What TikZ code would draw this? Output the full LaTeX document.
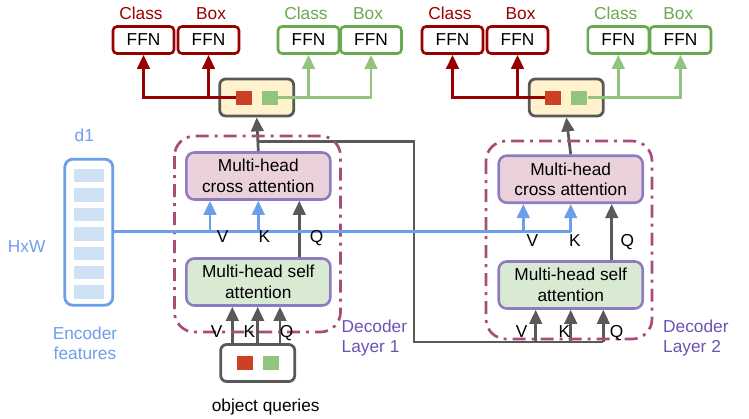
\documentclass[tikz,border=0pt]{standalone}
\usepackage{fontspec}
\setmainfont{Liberation Sans}
\usetikzlibrary{arrows.meta,calc}
\definecolor{dred}{HTML}{990000}
\definecolor{dgreen}{HTML}{6AA84F}
\definecolor{lgreen}{HTML}{93C47D}
\definecolor{sqred}{HTML}{CC4125}
\definecolor{ggray}{HTML}{595959}
\definecolor{hubfill}{HTML}{FFF2CC}
\definecolor{bblue}{HTML}{6D9EEB}
\definecolor{lblue}{HTML}{CFE2F3}
\definecolor{pborder}{HTML}{8E7CC3}
\definecolor{pfill}{HTML}{EAD1DC}
\definecolor{gfill}{HTML}{D9EAD3}
\definecolor{layerc}{HTML}{A64D79}
\definecolor{dpurple}{HTML}{6B52B3}
\begin{document}
\begin{tikzpicture}[x=1pt,y=-1pt,
  txt/.style={font=\fontsize{17.3}{20.6}\selectfont, inner sep=0pt},
  ffnr/.style={draw=dred, line width=2.6pt, rounded corners=4pt, minimum width=61pt, minimum height=27pt, txt},
  ffng/.style={draw=dgreen, line width=2.6pt, rounded corners=4pt, minimum width=61pt, minimum height=27pt, txt},
  hub/.style={draw=ggray, fill=hubfill, line width=2.8pt, rounded corners=6pt, minimum width=74pt, minimum height=37pt},
  qbox/.style={draw=ggray, fill=white, line width=2.8pt, rounded corners=6pt, minimum width=74pt, minimum height=37pt},
  sq/.style={minimum width=16pt, minimum height=14pt, inner sep=0pt},
  cross/.style={draw=pborder, fill=pfill, line width=2.6pt, rounded corners=8pt, minimum width=144pt, minimum height=47pt, align=center, txt},
  self/.style={draw=pborder, fill=gfill, line width=2.6pt, rounded corners=8pt, minimum width=144pt, minimum height=47pt, align=center, txt},
  tip/.style={-{Triangle[width=12.5pt,length=14pt]}},
  rarr/.style={draw=dred, line width=2.7pt, tip},
  garr/.style={draw=lgreen, line width=2.7pt, tip},
  karr/.style={draw=ggray, line width=2.7pt, tip},
  kline/.style={draw=ggray, line width=2.7pt},
  barr/.style={draw=bblue, line width=2.7pt, tip},
  bline/.style={draw=bblue, line width=2.7pt},
  layerbox/.style={draw=layerc, line width=2.7pt, rounded corners=20pt, dash pattern=on 13pt off 6pt on 3pt off 6pt},
  lab/.style={txt, anchor=base},
]
\useasboundingbox (0,0) rectangle (749,418);

% ---------- FFN heads ----------
\node[ffnr] (rc1) at (143.5,40) {FFN};
\node[ffnr] (rb1) at (208.5,40) {FFN};
\node[ffng] (gc1) at (308.5,40) {FFN};
\node[ffng] (gb1) at (371,40) {FFN};
\node[ffnr] (rc2) at (452.5,40) {FFN};
\node[ffnr] (rb2) at (517.5,40) {FFN};
\node[ffng] (gc2) at (618.3,40) {FFN};
\node[ffng] (gb2) at (680.5,40) {FFN};

\node[lab, text=dred] (lrc1) at (141,19.2) {Class};
\node[lab, text=dred] (lrb1) at (211,19.2) {Box};
\node[lab, text=dgreen] (lgc1) at (306,19.2) {Class};
\node[lab, text=dgreen] (lgb1) at (368,19.2) {Box};
\node[lab, text=dred] (lrc2) at (450,19.2) {Class};
\node[lab, text=dred] (lrb2) at (520.5,19.2) {Box};
\node[lab, text=dgreen] (lgc2) at (615.7,19.2) {Class};
\node[lab, text=dgreen] (lgb2) at (678.3,19.2) {Box};

% ---------- hubs ----------
\node[hub] (hub1) at (256.7,97.5) {};
\node[sq, fill=sqred] (rq1) at (243.7,97.5) {};
\node[sq, fill=lgreen] (gq1) at (269.7,97.5) {};
\node[hub] (hub2) at (566.3,97.5) {};
\node[sq, fill=sqred] (rq2) at (553,97.5) {};
\node[sq, fill=lgreen] (gq2) at (579.3,97.5) {};

% ---------- attention blocks ----------
\node[cross] (ca1) at (258.3,176) {Multi-head\\cross attention};
\node[self] (sa1) at (258.3,282) {Multi-head self\\attention};
\node[cross] (ca2) at (570.7,179.2) {Multi-head\\cross attention};
\node[self] (sa2) at (570.7,285) {Multi-head self\\attention};

% ---------- object queries ----------
\node[qbox] (oq) at (257.7,363) {};
\node[sq, fill=sqred] (oqr) at (244.7,363.3) {};
\node[sq, fill=lgreen] (oqg) at (271.3,363.3) {};
\node[lab] (oqlab) at (265.7,411) {object queries};

% ---------- encoder features ----------
\node[draw=bblue, fill=white, line width=2.8pt, rounded corners=8pt, minimum width=48pt, minimum height=146pt] (enc) at (88.8,232.2) {};
\foreach \i in {0,...,6}{
  \node[fill=lblue, minimum width=30pt, minimum height=13.4pt, inner sep=0pt] (e\i) at (89,175.7+19.4*\i) {};
}
\node[lab, text=bblue] (d1) at (84.3,141.2) {d1};
\node[lab, text=bblue] (hxw) at (26.7,252.9) {HxW};
\node[txt, text=bblue, align=center] (encl) at (85,343.3) {Encoder\\features};

% ---------- FFN connectors ----------
\coordinate (rj1) at (rb1.south |- rq1.west);
\coordinate (gj1) at (gc1.south |- gq1.east);
\coordinate (rj2) at (rb2.south |- rq2.west);
\coordinate (gj2) at (gc2.south |- gq2.east);
\draw[rarr] (rq1.west) -| (rc1.south);
\draw[rarr] (rj1) -- (rb1.south);
\draw[garr] (gq1.east) -| (gb1.south);
\draw[garr] (gj1) -- (gc1.south);
\draw[rarr] (rq2.west) -| (rc2.south);
\draw[rarr] (rj2) -- (rb2.south);
\draw[garr] (gq2.east) -| (gb2.south);
\draw[garr] (gj2) -- (gc2.south);

% ---------- gray connectors ----------
\coordinate (s1) at (ca1.north |- 0,141.7);
\coordinate (c1r) at (414,141.7);
\coordinate (c1d) at (414,342);
\coordinate (bv2) at (535.7,342);
\coordinate (bk2) at (570.7,342);
\coordinate (bq2) at (603.3,342);
\draw[karr] (ca1.north) -- (hub1.south);
\draw[karr] (ca2.north) -- (hub2.south);
\draw[kline] (s1) -- (c1r) -- (c1d) -- (bq2);
\draw[karr] (bv2) -- (bv2 |- sa2.south);
\draw[karr] (bk2) -- (bk2 |- sa2.south);
\draw[karr] (bq2) -- (bq2 |- sa2.south);
\coordinate (ov) at (232.3,0);
\coordinate (ok) at (257.7,0);
\coordinate (oqq) at (280,0);
\draw[karr] (oq.north -| ov) -- (sa1.south -| ov);
\draw[karr] (oq.north -| ok) -- (sa1.south -| ok);
\draw[karr] (oq.north -| oqq) -- (sa1.south -| oqq);
\coordinate (q1) at (299.3,0);
\coordinate (q2) at (611.7,0);
\draw[karr] (sa1.north -| q1) -- (ca1.south -| q1);
\draw[karr] (sa2.north -| q2) -- (ca2.south -| q2);

% ---------- decoder layer frames ----------
\draw[layerbox] (174.5,136) rectangle (340.5,332) coordinate (L1);
\draw[layerbox] (486,141) rectangle (652,339) coordinate (L2);
\node[txt, text=dpurple, align=left, anchor=west] (dl1) at (341.5,338) {Decoder\\Layer 1};
\node[txt, text=dpurple, align=left, anchor=west] (dl2) at (663,338) {Decoder\\Layer 2};

% ---------- blue connectors ----------
\coordinate (bv1) at (210,231.7);
\coordinate (bk1) at (ca1.south |- bv1);
\coordinate (bvv2) at (523.3,231.7);
\coordinate (bkk2) at (ca2.south |- bv1);
\draw[bline] (enc.east |- bv1) -- (bkk2);
\draw[barr] (bv1) -- (bv1 |- ca1.south);
\draw[barr] (bk1) -- (ca1.south);
\draw[barr] (bvv2) -- (bvv2 |- ca2.south);
\draw[barr] (bkk2) -- (ca2.south);

% ---------- V K Q labels ----------
\node[lab] (v1u) at (222.7,242.9) {V};
\node[lab] (k1u) at (264.3,242.9) {K};
\node[lab] (q1u) at (316.7,242.9) {Q};
\node[lab] (v1l) at (216.7,337.9) {V};
\node[lab] (k1l) at (249.3,337.9) {K};
\node[lab] (q1l) at (286.7,337.9) {Q};
\node[lab] (v2u) at (532.3,246.9) {V};
\node[lab] (k2u) at (575,246.9) {K};
\node[lab] (q2u) at (627.3,246.9) {Q};
\node[lab] (v2l) at (521.7,337.9) {V};
\node[lab] (k2l) at (564.3,337.9) {K};
\node[lab] (q2l) at (616.7,337.9) {Q};
\end{tikzpicture}
\end{document}
